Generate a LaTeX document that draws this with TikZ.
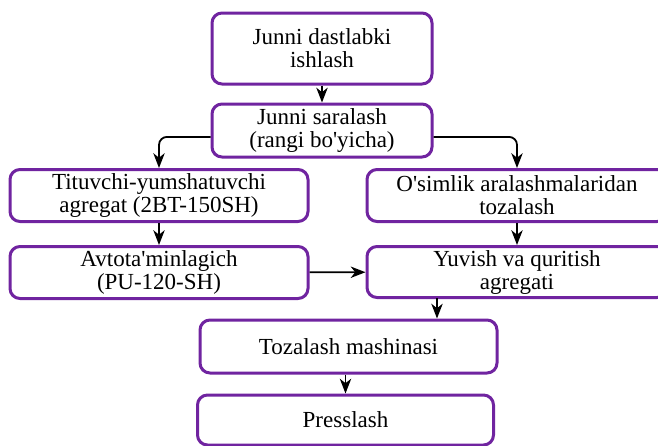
\documentclass[tikz,border=0pt]{standalone}
\usepackage{fontspec}
\setmainfont{Liberation Serif}[Ligatures=TeXOff]
\usepackage{tikz}
\usetikzlibrary{arrows.meta}
\definecolor{stagepurple}{RGB}{112,36,160}

\begin{document}
\begin{tikzpicture}[>=Stealth, x=0.5pt, y=-0.5pt,
    stage/.style={draw=stagepurple, line width=1.5pt, rounded corners=5pt,
      fill=white, align=center, inner sep=0pt,
      font=\fontsize{11.5}{11.5}\selectfont},
    flow/.style={-{Stealth[length=2.6mm, width=2mm, inset=0.8mm]}, line width=0.9pt, black}]
  \useasboundingbox (0,0) rectangle (658,445);
  % upper part
  \node[stage, minimum width=110pt, minimum height=35.5pt]
    (prep) at (322,48.5) {Junni dastlabki\\ishlash};
  \node[stage, minimum width=110pt, minimum height=26.5pt]
    (sort) at (322,130.5) {Junni saralash\\(rangi bo'yicha)};
  \node[stage, minimum width=149pt, minimum height=26pt]
    (loose) at (159,195.5) {Tituvchi-yumshatuvchi\\agregat (2BT-150SH)};
  \node[stage, minimum width=150pt, minimum height=26pt]
    (plant) at (517,195.5) {O'simlik aralashmalaridan\\tozalash};
  % middle part
  \node[stage, minimum width=149pt, minimum height=26pt]
    (feed) at (159,272.5) {Avtota'minlagich\\(PU-120-SH)};
  \node[stage, minimum width=150pt, minimum height=25.5pt]
    (wash) at (517,272) {Yuvish va quritish\\agregati};
  % lower part
  \node[stage, minimum width=148.5pt, minimum height=26.5pt]
    (clean) at (348.5,346.5) {Tozalash mashinasi};
  \node[stage, minimum width=148pt, minimum height=25pt]
    (press) at (345.5,420) {Presslash};
  \coordinate (washout) at (437,298);
  % connectors
  \draw[flow] (prep) -- (sort);
  \draw[flow, rounded corners=4pt] ([yshift=-3.2pt]sort.west) -| (loose.north);
  \draw[flow, rounded corners=4pt] ([yshift=-3.2pt]sort.east) -| (plant.north);
  \draw[flow] (loose) -- (feed);
  \draw[flow] (plant) -- (wash);
  \draw[flow] (feed) -- (wash);
  \draw[flow] (washout) -- (washout |- clean.north);
  \draw[flow] (press.north |- clean.south) -- (press.north);
\end{tikzpicture}
\end{document}
